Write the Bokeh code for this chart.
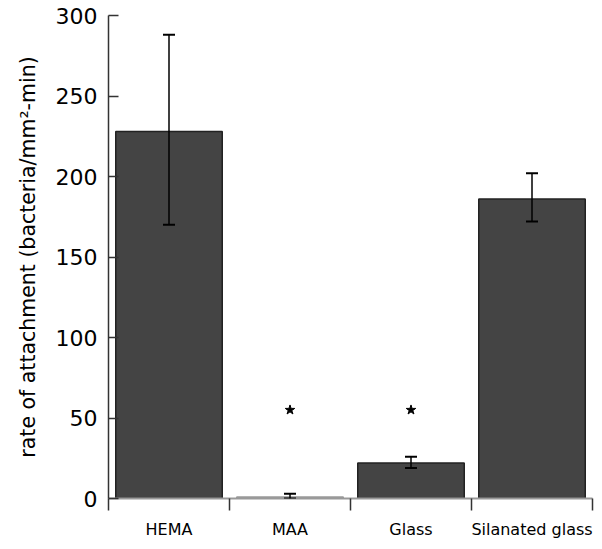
from bokeh.plotting import figure
from bokeh.models import FixedTicker, Whisker, ColumnDataSource, Range1d
from bokeh.embed import file_html
from bokeh.resources import INLINE

categories = ["HEMA", "MAA", "Glass", "Silanated glass"]
values = [228, 1, 22, 186]
err_lower = [170, 0, 19, 172]
err_upper = [288, 3, 26, 202]
star_cats = ["MAA", "Glass"]
star_y = [55, 55]
y_ticks = [0, 50, 100, 150, 200, 250, 300]

FONT = "DejaVu Sans"

pos = [i + 0.5 for i in range(len(categories))]
p = figure(width=594, height=541, output_backend="svg", toolbar_location=None,
           x_range=Range1d(0, len(categories)), y_range=Range1d(0, 300),
           min_border_left=108, min_border_right=2, min_border_top=15, min_border_bottom=40)
p.outline_line_color = None
p.grid.visible = False
p.background_fill_color = "white"

colors = ["#444444", "#cccccc", "#444444", "#444444"]
lines = ["#222222", "#999999", "#222222", "#222222"]
src = ColumnDataSource(dict(x=pos, top=values, fill=colors, line=lines,
                            lo=err_lower, hi=err_upper))
p.vbar(x="x", top="top", bottom=0, width=0.88, fill_color="fill", line_color="line",
       line_width=1.5, source=src)

w = Whisker(base="x", lower="lo", upper="hi", source=src, line_color="black", line_width=1.5,
            level="overlay")
w.upper_head.size = 12
w.lower_head.size = 12
w.upper_head.line_width = 2
w.lower_head.line_width = 2
p.add_layout(w)

star_x = [pos[categories.index(c)] for c in star_cats]
p.scatter(star_x, star_y, marker="star", size=10, fill_color="black", line_color="black")

xa = p.xaxis[0]
xa.ticker = FixedTicker(ticks=pos, minor_ticks=list(range(len(categories) + 1)))
xa.major_label_overrides = {p_: c for p_, c in zip(pos, categories)}
xa.major_tick_out = 0
xa.major_tick_in = 0
xa.minor_tick_out = 12
xa.minor_tick_in = 0
xa.minor_tick_line_color = "#333333"
xa.minor_tick_line_width = 1.5
xa.axis_line_color = "#999999"
xa.axis_line_width = 2
xa.major_label_standoff = 9
xa.major_label_text_font = FONT
xa.major_label_text_font_size = "16px"
xa.major_label_text_color = "black"

ya = p.yaxis[0]
ya.ticker = FixedTicker(ticks=y_ticks)
ya.minor_tick_line_color = None
ya.major_tick_in = 10
ya.major_tick_out = 0
ya.major_tick_line_color = "#333333"
ya.major_tick_line_width = 1.5
ya.axis_line_color = "#333333"
ya.axis_line_width = 1.5
ya.major_label_standoff = 11
ya.major_label_text_font = FONT
ya.major_label_text_font_size = "22px"
ya.major_label_text_color = "black"
ya.axis_label = "rate of attachment (bacteria/mm²-min)"
ya.axis_label_text_font = FONT
ya.axis_label_text_font_size = "20.5px"
ya.axis_label_text_font_style = "normal"
ya.axis_label_text_color = "black"
ya.axis_label_standoff = 13

open("out.html", "w").write(file_html(p, INLINE))
